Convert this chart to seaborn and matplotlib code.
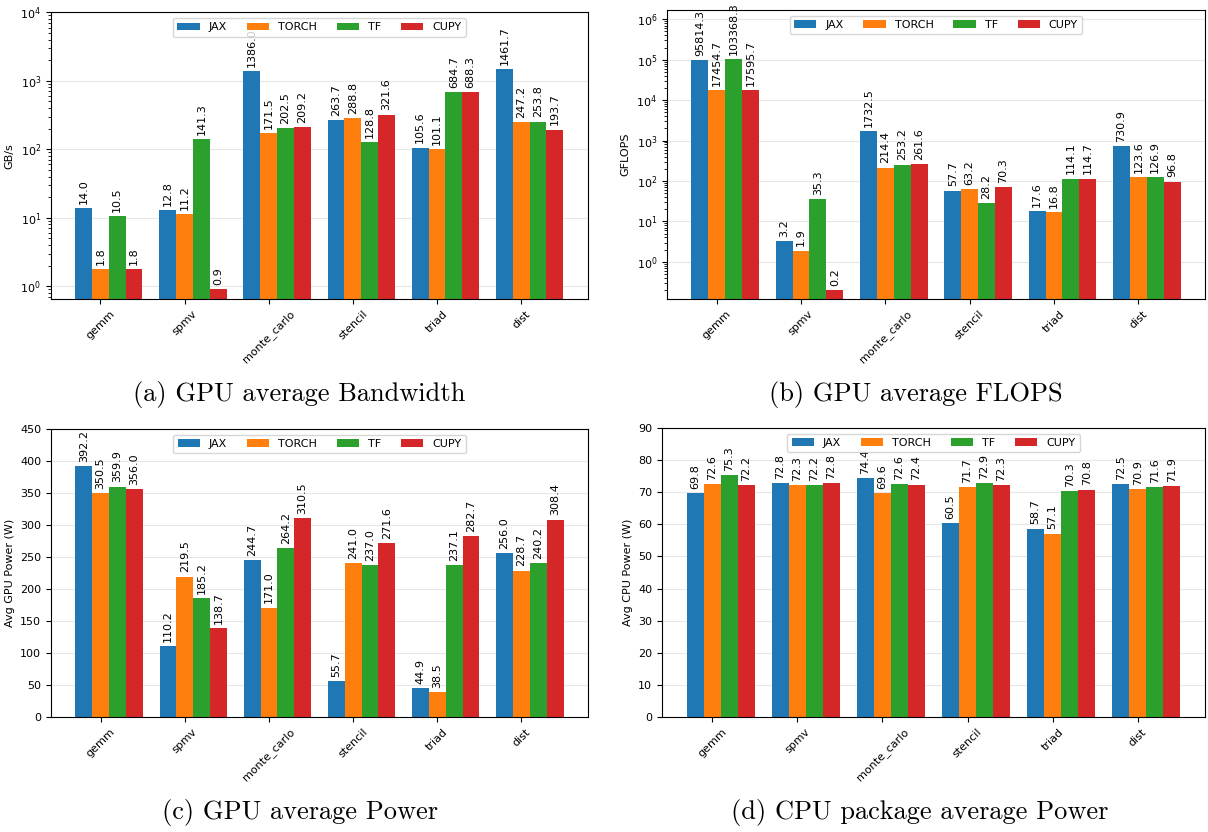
import numpy as np
import pandas as pd
import seaborn as sns
import matplotlib.pyplot as plt

benches = ["gemm", "spmv", "monte_carlo", "stencil", "triad", "dist"]
frameworks = ["JAX", "TORCH", "TF", "CUPY"]
colors = ["#1f77b4", "#ff7f0e", "#2ca02c", "#d62728"]

# GB/s
bandwidth = {
    "JAX":   [14.0, 12.8, 1386.0, 263.7, 105.6, 1461.7],
    "TORCH": [1.8, 11.2, 171.5, 288.8, 101.1, 247.2],
    "TF":    [10.5, 141.3, 202.5, 128.8, 684.7, 253.8],
    "CUPY":  [1.8, 0.9, 209.2, 321.6, 688.3, 193.7],
}
# GFLOPS
flops = {
    "JAX":   [95814.3, 3.2, 1732.5, 57.7, 17.6, 730.9],
    "TORCH": [17454.7, 1.9, 214.4, 63.2, 16.8, 123.6],
    "TF":    [103368.3, 35.3, 253.2, 28.2, 114.1, 126.9],
    "CUPY":  [17595.7, 0.2, 261.6, 70.3, 114.7, 96.8],
}
# W
gpu_power = {
    "JAX":   [392.2, 110.2, 244.7, 55.7, 44.9, 256.0],
    "TORCH": [350.5, 219.5, 171.0, 241.0, 38.5, 228.7],
    "TF":    [359.9, 185.2, 264.2, 237.0, 237.1, 240.2],
    "CUPY":  [356.0, 138.7, 310.5, 271.6, 282.7, 308.4],
}
cpu_power = {
    "JAX":   [69.8, 72.8, 74.4, 60.5, 58.7, 72.5],
    "TORCH": [72.6, 72.3, 69.6, 71.7, 57.1, 70.9],
    "TF":    [75.3, 72.2, 72.6, 72.9, 70.3, 71.6],
    "CUPY":  [72.2, 72.8, 72.4, 72.3, 70.8, 71.9],
}

panels = [
    (bandwidth, "GB/s", True, (0.65, 1e4), "(a) GPU average Bandwidth"),
    (flops, "GFLOPS", True, (0.12, 1.7e6), "(b) GPU average FLOPS"),
    (gpu_power, "Avg GPU Power (W)", False, (0, 450), "(c) GPU average Power"),
    (cpu_power, "Avg CPU Power (W)", False, (0, 90), "(d) CPU package average Power"),
]

# axes rectangles in figure fractions
rects = [
    [0.042, 0.6406, 0.4445, 0.3446],
    [0.5521, 0.6406, 0.4454, 0.3474],
    [0.0422, 0.1382, 0.4445, 0.3462],
    [0.548, 0.1382, 0.4495, 0.3474],
]
caption_pos = [(0.248, 0.5095), (0.758, 0.5095), (0.248, 0.0075), (0.761, 0.0075)]

fs = 8
fig = plt.figure(figsize=(12.08, 8.32), dpi=100)

for (data, ylabel, logy, ylim, caption), rect, cpos in zip(panels, rects, caption_pos):
    ax = fig.add_axes(rect)
    df = pd.DataFrame(
        [(b, fw, data[fw][i]) for fw in frameworks for i, b in enumerate(benches)],
        columns=["bench", "framework", "value"],
    )
    sns.barplot(data=df, x="bench", y="value", hue="framework", order=benches,
                hue_order=frameworks, palette=colors, saturation=1, errorbar=None,
                width=0.8, linewidth=0, ax=ax)
    if logy:
        ax.set_yscale("log")
    ax.set_ylim(*ylim)
    if not logy:
        ax.set_yticks(np.arange(0, ylim[1] + 1, ylim[1] / 9))
    ax.set_xlim(-0.69, 5.69)
    # ticks sit under the second bar of each group
    ax.set_xticks(np.arange(len(benches)) - 0.1)
    ax.set_xticklabels(benches, rotation=45, fontsize=fs)
    ax.tick_params(axis="y", labelsize=fs)
    ax.set_xlabel("")
    ax.set_ylabel(ylabel, fontsize=fs)
    ax.yaxis.grid(True, alpha=0.3)
    ax.xaxis.grid(False)
    ax.set_axisbelow(True)
    for c in ax.containers:
        ax.bar_label(c, fmt="%.1f", rotation=90, padding=3, fontsize=fs)
    sns.move_legend(ax, "upper center", ncol=4, title=None, fontsize=fs,
                    columnspacing=1.8, frameon=True)
    fig.text(cpos[0], cpos[1], caption, ha="center", va="bottom",
             fontsize=19, family="cmr10")

fig.savefig("out.png", dpi=100)
